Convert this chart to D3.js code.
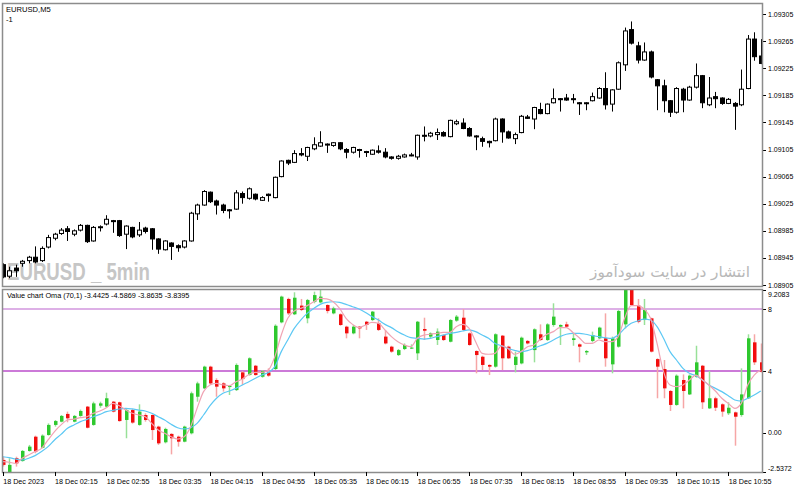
<!DOCTYPE html>
<html>
<head>
<meta charset="utf-8">
<script src="https://cdnjs.cloudflare.com/ajax/libs/d3/7.8.5/d3.min.js"></script>
<style>
  body { margin: 0; background: #fff; }
  svg { display: block; font-family: "Liberation Sans", Arial, sans-serif; }
</style>
</head>
<body>
<svg width="800" height="490"></svg>
<script>
const timeLabels = ["18 Dec 2023", "18 Dec 02:15", "18 Dec 02:55", "18 Dec 03:35", "18 Dec 04:15",
  "18 Dec 04:55", "18 Dec 05:35", "18 Dec 06:15", "18 Dec 06:55", "18 Dec 07:35", "18 Dec 08:15",
  "18 Dec 08:55", "18 Dec 09:35", "18 Dec 10:15", "18 Dec 10:55"];
const timeLabelBars = [0, 8, 16, 24, 32, 40, 48, 56, 64, 72, 80, 88, 96, 104, 112];

const priceTicks = [1.09305, 1.09265, 1.09225, 1.09185, 1.09145, 1.09105, 1.09065, 1.09025, 1.08985, 1.08945, 1.08905];

const priceOpen = [
  1.08935, 1.08918, 1.08930, 1.08937, 1.08941, 1.08946, 1.08941, 1.08961, 1.08974, 1.08981,
  1.08988, 1.08980, 1.08986, 1.08993, 1.08970, 1.08990, 1.08995, 1.09000, 1.09000, 1.08980,
  1.08990, 1.08979, 1.08989, 1.08988, 1.08973, 1.08957, 1.08967, 1.08963, 1.08961, 1.08970,
  1.09010, 1.09023, 1.09042, 1.09029, 1.09023, 1.09016, 1.09017, 1.09040, 1.09033, 1.09039,
  1.09030, 1.09039, 1.09034, 1.09065, 1.09089, 1.09086, 1.09099, 1.09095, 1.09106, 1.09110,
  1.09113, 1.09111, 1.09115, 1.09105, 1.09101, 1.09105, 1.09102, 1.09098, 1.09103, 1.09101,
  1.09094, 1.09092, 1.09094, 1.09096, 1.09094, 1.09126, 1.09125, 1.09127, 1.09130, 1.09124,
  1.09143, 1.09144, 1.09136, 1.09125, 1.09121, 1.09117, 1.09118, 1.09150, 1.09131, 1.09121,
  1.09130, 1.09153, 1.09150, 1.09164, 1.09158, 1.09174, 1.09180, 1.09181, 1.09180, 1.09174,
  1.09173, 1.09177, 1.09181, 1.09195, 1.09172, 1.09194, 1.09230, 1.09282, 1.09258, 1.09237,
  1.09249, 1.09208, 1.09199, 1.09177, 1.09160, 1.09194, 1.09178, 1.09197, 1.09214, 1.09171,
  1.09183, 1.09181, 1.09173, 1.09173, 1.09171, 1.09195, 1.09268, 1.09243];
const priceHigh = [
  1.08937, 1.08932, 1.08935, 1.08942, 1.08948, 1.08962, 1.08962, 1.08979, 1.08982, 1.08989,
  1.08992, 1.08987, 1.08995, 1.08994, 1.08992, 1.08993, 1.09008, 1.09001, 1.09001, 1.08993,
  1.08991, 1.08998, 1.08991, 1.08989, 1.08974, 1.08971, 1.08968, 1.08965, 1.08971, 1.09013,
  1.09025, 1.09045, 1.09043, 1.09031, 1.09025, 1.09017, 1.09045, 1.09043, 1.09049, 1.09040,
  1.09036, 1.09040, 1.09065, 1.09089, 1.09090, 1.09104, 1.09107, 1.09109, 1.09123, 1.09132,
  1.09114, 1.09116, 1.09116, 1.09107, 1.09109, 1.09106, 1.09103, 1.09105, 1.09111, 1.09107,
  1.09095, 1.09097, 1.09099, 1.09100, 1.09127, 1.09139, 1.09131, 1.09136, 1.09132, 1.09149,
  1.09149, 1.09151, 1.09138, 1.09126, 1.09124, 1.09118, 1.09152, 1.09151, 1.09133, 1.09130,
  1.09156, 1.09156, 1.09168, 1.09174, 1.09173, 1.09195, 1.09181, 1.09187, 1.09187, 1.09175,
  1.09175, 1.09189, 1.09197, 1.09219, 1.09194, 1.09235, 1.09285, 1.09294, 1.09264, 1.09263,
  1.09251, 1.09209, 1.09208, 1.09178, 1.09197, 1.09196, 1.09199, 1.09232, 1.09215, 1.09212,
  1.09190, 1.09182, 1.09181, 1.09175, 1.09223, 1.09274, 1.09278, 1.09268];
const priceLow = [
  1.08915, 1.08915, 1.08917, 1.08932, 1.08937, 1.08937, 1.08939, 1.08959, 1.08971, 1.08979,
  1.08970, 1.08977, 1.08984, 1.08967, 1.08969, 1.08984, 1.08993, 1.08982, 1.08976, 1.08958,
  1.08974, 1.08976, 1.08981, 1.08957, 1.08951, 1.08956, 1.08942, 1.08954, 1.08959, 1.08969,
  1.09001, 1.09022, 1.09026, 1.09009, 1.09011, 1.09003, 1.09016, 1.09025, 1.09031, 1.09030,
  1.09029, 1.09028, 1.09033, 1.09064, 1.09082, 1.09085, 1.09095, 1.09088, 1.09104, 1.09109,
  1.09100, 1.09109, 1.09104, 1.09092, 1.09099, 1.09093, 1.09094, 1.09097, 1.09099, 1.09092,
  1.09090, 1.09090, 1.09093, 1.09095, 1.09090, 1.09117, 1.09123, 1.09119, 1.09124, 1.09123,
  1.09141, 1.09135, 1.09124, 1.09104, 1.09109, 1.09108, 1.09117, 1.09115, 1.09121, 1.09113,
  1.09129, 1.09150, 1.09135, 1.09157, 1.09157, 1.09173, 1.09161, 1.09177, 1.09173, 1.09156,
  1.09163, 1.09176, 1.09180, 1.09164, 1.09161, 1.09193, 1.09221, 1.09260, 1.09232, 1.09236,
  1.09210, 1.09163, 1.09160, 1.09153, 1.09158, 1.09160, 1.09177, 1.09195, 1.09166, 1.09169,
  1.09166, 1.09171, 1.09172, 1.09134, 1.09169, 1.09194, 1.09236, 1.09231];
const priceClose = [
  1.08917, 1.08926, 1.08926, 1.08940, 1.08946, 1.08939, 1.08959, 1.08975, 1.08980, 1.08986,
  1.08984, 1.08985, 1.08993, 1.08969, 1.08990, 1.08991, 1.09002, 1.08999, 1.08978, 1.08992,
  1.08976, 1.08986, 1.08984, 1.08973, 1.08958, 1.08970, 1.08962, 1.08960, 1.08970, 1.09011,
  1.09023, 1.09043, 1.09028, 1.09023, 1.09015, 1.09015, 1.09041, 1.09034, 1.09047, 1.09032,
  1.09034, 1.09037, 1.09064, 1.09088, 1.09085, 1.09099, 1.09097, 1.09108, 1.09112, 1.09115,
  1.09112, 1.09115, 1.09106, 1.09101, 1.09108, 1.09104, 1.09101, 1.09104, 1.09101, 1.09094,
  1.09092, 1.09095, 1.09097, 1.09097, 1.09126, 1.09125, 1.09129, 1.09130, 1.09125, 1.09148,
  1.09146, 1.09136, 1.09125, 1.09124, 1.09117, 1.09115, 1.09150, 1.09131, 1.09122, 1.09127,
  1.09154, 1.09151, 1.09167, 1.09158, 1.09172, 1.09180, 1.09179, 1.09178, 1.09179, 1.09173,
  1.09174, 1.09183, 1.09195, 1.09171, 1.09193, 1.09233, 1.09280, 1.09262, 1.09237, 1.09249,
  1.09212, 1.09199, 1.09177, 1.09160, 1.09195, 1.09178, 1.09197, 1.09214, 1.09174, 1.09181,
  1.09180, 1.09173, 1.09179, 1.09169, 1.09194, 1.09268, 1.09242, 1.09232];

const vcTicks = [9.2083, 8, 4, 0, -2.5372];
const vcTickLabels = ["9.2083", "8", "4", "0.00", "-2.5372"];
const vcLevels = [8, 4];

const vcOpen = [
  -1.74, -2.54, -1.63, -1.81, -1.16, -0.24, -0.95, -0.13, 0.52, 0.73,
  1.23, 0.73, 1.10, 1.70, 0.52, 1.76, 1.70, 2.02, 1.98, 0.84,
  1.48, 0.52, 1.16, 1.16, 0.41, -0.60, -0.06, -0.24, -0.56, -0.02,
  2.34, 2.88, 4.28, 3.42, 3.20, 2.99, 2.77, 3.91, 3.74, 4.34,
  3.63, 3.91, 4.13, 7.14, 8.65, 7.66, 8.22, 7.40, 8.47, 8.43,
  8.26, 7.72, 7.66, 6.86, 6.43, 6.86, 7.18, 7.29, 7.08, 6.22,
  5.57, 5.03, 5.42, 5.46, 5.14, 6.71, 6.22, 6.00, 6.32, 5.89,
  7.25, 7.44, 6.43, 5.29, 4.92, 4.39, 4.28, 6.28, 5.57, 4.39,
  4.49, 5.94, 5.35, 6.37, 6.00, 6.97, 6.86, 7.01, 6.00, 5.72,
  5.20, 5.94, 6.11, 6.11, 4.43, 5.57, 7.01, 9.29, 8.22, 7.29,
  7.40, 4.77, 4.13, 2.71, 1.81, 3.42, 2.49, 3.63, 4.34, 1.59,
  2.24, 1.85, 1.27, 1.33, 1.16, 2.24, 5.85, 4.56];
const vcHigh = [
  -1.53, -1.63, -1.53, -1.10, -0.77, -0.17, -0.09, 0.62, 0.84, 1.16,
  1.38, 1.16, 1.51, 1.74, 2.02, 2.02, 2.60, 2.06, 2.02, 1.55,
  1.55, 1.85, 1.27, 1.20, 0.47, 0.34, -0.02, -0.17, 0.47, 2.67,
  3.31, 4.34, 4.34, 3.53, 3.27, 3.10, 4.49, 4.00, 4.88, 4.39,
  4.06, 4.17, 7.01, 8.86, 8.73, 9.08, 8.65, 8.65, 9.12, 9.44,
  8.30, 8.15, 7.72, 6.92, 6.97, 6.90, 7.23, 7.87, 7.40, 6.65,
  5.63, 5.42, 5.78, 5.72, 7.23, 7.44, 6.49, 6.75, 6.37, 7.35,
  7.61, 8.00, 6.49, 5.33, 4.99, 4.43, 6.43, 6.32, 5.63, 5.25,
  6.22, 6.00, 6.75, 7.01, 7.08, 8.37, 7.01, 7.18, 6.43, 5.78,
  5.35, 6.54, 6.86, 7.72, 6.22, 7.94, 9.55, 9.55, 8.65, 8.65,
  7.44, 4.82, 4.71, 2.77, 3.78, 3.78, 3.78, 5.63, 4.39, 4.00,
  2.34, 1.91, 1.98, 1.38, 4.17, 6.37, 6.37, 5.78];
const vcLow = [
  -2.17, -2.62, -2.17, -1.85, -1.20, -1.31, -0.99, -0.17, 0.41, 0.69,
  0.69, 0.69, 1.05, 0.30, 0.47, 1.63, 1.63, 1.33, 0.73, -0.34,
  0.60, 0.47, 0.73, -0.45, -0.77, -0.67, -1.38, -0.88, -0.60, -0.09,
  2.02, 2.84, 3.10, 2.34, 2.67, 2.45, 2.71, 3.10, 3.70, 3.70,
  3.57, 3.63, 4.06, 7.08, 7.61, 7.61, 7.87, 7.08, 8.37, 8.37,
  7.72, 7.66, 6.92, 6.11, 6.37, 6.11, 6.65, 7.23, 6.58, 5.72,
  5.18, 4.97, 5.35, 5.42, 4.71, 6.00, 6.11, 5.68, 5.94, 5.85,
  7.18, 6.58, 5.63, 3.85, 4.06, 3.74, 4.22, 4.06, 4.77, 3.91,
  4.43, 5.72, 4.56, 5.94, 5.94, 6.86, 5.68, 6.80, 5.63, 4.56,
  5.03, 5.85, 6.06, 4.28, 3.85, 5.51, 6.75, 8.22, 7.08, 6.97,
  5.20, 2.24, 2.24, 1.42, 1.76, 1.59, 2.45, 3.57, 1.55, 1.55,
  1.42, 1.05, 1.16, -0.82, 1.05, 2.19, 4.39, 3.91];
const vcClose = [
  -2.06, -2.06, -1.96, -1.16, -0.88, -1.20, -0.17, 0.52, 0.77, 1.10,
  0.95, 1.10, 1.42, 0.34, 1.91, 1.91, 2.24, 1.38, 0.77, 1.48,
  0.67, 1.38, 0.84, 0.19, -0.67, 0.26, -0.34, -0.56, 0.41, 2.56,
  3.20, 4.28, 3.20, 2.99, 2.88, 3.03, 4.39, 3.48, 4.82, 3.74,
  4.00, 3.70, 6.92, 8.80, 7.72, 8.73, 7.94, 8.58, 8.90, 8.80,
  7.87, 8.04, 6.97, 6.43, 6.86, 6.75, 6.97, 7.83, 6.65, 5.78,
  5.25, 5.35, 5.68, 5.51, 7.18, 6.60, 6.43, 6.54, 6.00, 7.29,
  7.51, 6.65, 5.68, 5.03, 4.39, 4.28, 6.37, 4.82, 4.82, 4.92,
  6.15, 5.78, 6.69, 6.00, 7.01, 7.51, 6.97, 6.86, 6.11, 5.57,
  5.29, 6.32, 6.80, 4.82, 6.11, 7.87, 9.33, 8.26, 7.18, 7.94,
  5.25, 4.28, 2.88, 1.81, 3.70, 2.71, 3.70, 4.56, 1.98, 2.24,
  1.63, 1.38, 1.63, 1.05, 2.49, 6.11, 4.56, 3.96];

const vcFast = [
  -1.85, -1.89, -1.96, -1.63, -1.42, -1.20, -0.99, -0.45, 0.09, 0.52,
  0.84, 0.90, 0.99, 1.05, 1.27, 1.42, 1.63, 1.91, 1.76, 1.48,
  1.27, 1.16, 1.05, 0.62, 0.19, -0.02, -0.24, -0.39, -0.24, 0.41,
  1.59, 2.67, 3.10, 3.20, 3.10, 3.05, 3.31, 3.48, 3.78, 3.91,
  3.91, 4.06, 4.92, 6.32, 7.40, 7.87, 8.04, 8.22, 8.47, 8.69,
  8.65, 8.47, 8.04, 7.40, 7.01, 6.80, 6.97, 7.14, 7.08, 6.65,
  6.22, 5.89, 5.68, 5.57, 6.11, 6.32, 6.37, 6.43, 6.49, 6.49,
  6.86, 7.01, 6.75, 5.89, 5.14, 5.08, 5.14, 5.63, 5.46, 5.08,
  5.25, 5.57, 5.68, 6.06, 6.37, 6.54, 6.80, 6.80, 6.49, 6.15,
  5.78, 5.78, 6.00, 5.89, 5.89, 6.22, 7.40, 8.22, 8.22, 8.00,
  7.40, 5.78, 3.96, 3.10, 2.99, 3.10, 3.42, 3.74, 3.42, 3.10,
  2.71, 2.24, 1.91, 1.59, 1.91, 3.10, 3.74, 4.06];
const vcSlow = [
  -1.53, -1.59, -1.68, -1.74, -1.63, -1.46, -1.20, -0.88, -0.45, -0.09,
  0.30, 0.52, 0.73, 0.88, 1.05, 1.20, 1.38, 1.46, 1.55, 1.59,
  1.55, 1.48, 1.42, 1.27, 1.05, 0.84, 0.56, 0.34, 0.26, 0.34,
  0.62, 1.16, 1.76, 2.24, 2.56, 2.71, 2.88, 3.10, 3.31, 3.53,
  3.74, 3.91, 4.28, 5.25, 6.00, 6.75, 7.29, 7.72, 8.04, 8.30,
  8.43, 8.47, 8.43, 8.30, 8.15, 8.00, 7.78, 7.51, 7.29, 7.01,
  6.80, 6.54, 6.32, 6.15, 6.11, 6.06, 6.11, 6.22, 6.32, 6.43,
  6.49, 6.58, 6.65, 6.54, 6.32, 6.11, 5.78, 5.63, 5.46, 5.33,
  5.25, 5.31, 5.46, 5.63, 5.78, 6.00, 6.22, 6.37, 6.43, 6.43,
  6.37, 6.28, 6.22, 6.15, 6.11, 6.32, 6.75, 7.08, 7.23, 7.35,
  7.29, 6.86, 6.11, 5.25, 4.71, 4.17, 3.85, 3.70, 3.42, 3.10,
  2.88, 2.67, 2.41, 2.13, 2.06, 2.24, 2.45, 2.71];

const frame = { left: 2, right: 762, mainTop: 3, mainBottom: 286, subTop: 289, subBottom: 472 };

class PriceChart {

  constructor(svg, x) {
    this.svg = svg;
    this.x = x;
    this.y = d3.scaleLinear().domain([1.08905, 1.09305]).range([285, 14]);
  }

  viewInit() {
    let g = this.svg.append('g');

    g.append('text').attr('x', 7).attr('y', 280)
      .attr('font-family', '"Liberation Sans Narrow", "Liberation Sans", sans-serif')
      .attr('font-weight', 'bold').attr('font-size', 23)
      .attr('textLength', 143).attr('lengthAdjust', 'spacingAndGlyphs')
      .attr('fill', '#c6c6c6').text('EURUSD _ 5min');

    g.append('text').attr('x', 590).attr('y', 277)
      .attr('font-family', '"DejaVu Sans", sans-serif').attr('font-size', 15)
      .attr('textLength', 160).attr('lengthAdjust', 'spacingAndGlyphs')
      .attr('fill', '#b8b8b8').text('انتشار در سایت سودآموز');

    let bars = d3.range(priceOpen.length).map(i => ({
      i, o: priceOpen[i], h: priceHigh[i], l: priceLow[i], c: priceClose[i]
    }));

    this.svg.append('clipPath').attr('id', 'main-clip')
      .append('rect').attr('x', frame.left + 1).attr('y', frame.mainTop + 1)
      .attr('width', frame.right - frame.left - 1).attr('height', frame.mainBottom - frame.mainTop - 1);

    let candles = g.append('g').attr('clip-path', 'url(#main-clip)')
      .selectAll('g').data(bars).enter().append('g');

    candles.append('line')
      .attr('x1', d => Math.round(this.x(d.i)) + 0.5)
      .attr('x2', d => Math.round(this.x(d.i)) + 0.5)
      .attr('y1', d => this.y(d.h))
      .attr('y2', d => this.y(d.l))
      .attr('stroke', '#000').attr('stroke-width', 1);

    candles.append('rect')
      .attr('x', d => Math.round(this.x(d.i)) - 1.5)
      .attr('y', d => this.y(Math.max(d.o, d.c)))
      .attr('width', 4)
      .attr('height', d => Math.max(1, Math.abs(this.y(d.o) - this.y(d.c))))
      .attr('fill', d => d.c >= d.o ? '#fff' : '#000')
      .attr('stroke', '#000').attr('stroke-width', 1);

    g.append('text').attr('x', 6).attr('y', 12).attr('font-size', 7.6).attr('fill', '#000').text('EURUSD,M5');
    g.append('text').attr('x', 6).attr('y', 21.5).attr('font-size', 7.6).attr('fill', '#000').text('-1');

    let ticks = g.selectAll('.ptick').data(priceTicks).enter().append('g');
    ticks.append('line')
      .attr('x1', frame.right).attr('x2', frame.right + 4)
      .attr('y1', d => Math.round(this.y(d)) + 0.5).attr('y2', d => Math.round(this.y(d)) + 0.5)
      .attr('stroke', '#000');
    ticks.append('text')
      .attr('x', frame.right + 6).attr('y', d => this.y(d) + 2.5)
      .attr('font-size', 7).attr('fill', '#000')
      .text(d => d.toFixed(5));
  }

}

class ValueChart {

  constructor(svg, x) {
    this.svg = svg;
    this.x = x;
    this.y = d3.scaleLinear().domain([-2.5372, 9.2083]).range([472.3, 290.3]);
  }

  viewInit() {
    let g = this.svg.append('g');

    this.svg.append('clipPath').attr('id', 'sub-clip')
      .append('rect').attr('x', frame.left + 1).attr('y', frame.subTop + 1)
      .attr('width', frame.right - frame.left - 1).attr('height', frame.subBottom - frame.subTop - 1);

    let body = g.append('g').attr('clip-path', 'url(#sub-clip)');

    body.selectAll('.level').data(vcLevels).enter().append('line')
      .attr('x1', frame.left).attr('x2', frame.right)
      .attr('y1', d => this.y(d)).attr('y2', d => this.y(d))
      .attr('stroke', (d, i) => i == 0 ? '#ddb0e6' : '#cc7ad8')
      .attr('stroke-width', 2);

    let bars = d3.range(vcOpen.length).map(i => ({
      i, o: vcOpen[i], h: vcHigh[i], l: vcLow[i], c: vcClose[i]
    }));

    let candles = body.selectAll('.vc').data(bars).enter().append('g');

    candles.append('line')
      .attr('x1', d => Math.round(this.x(d.i)) + 0.5)
      .attr('x2', d => Math.round(this.x(d.i)) + 0.5)
      .attr('y1', d => this.y(d.h))
      .attr('y2', d => this.y(d.l))
      .attr('stroke', d => d.c >= d.o ? '#98e098' : '#f6a6a6')
      .attr('stroke-width', 1.5);

    candles.append('rect')
      .attr('x', d => Math.round(this.x(d.i)) - 1)
      .attr('y', d => this.y(Math.max(d.o, d.c)))
      .attr('width', 3.5)
      .attr('height', d => Math.max(1, Math.abs(this.y(d.o) - this.y(d.c))))
      .attr('fill', d => d.c >= d.o ? '#2ec82e' : '#f20e0e');

    let line = values => d3.line()
      .x((d, i) => this.x(i))
      .y(d => this.y(d))
      .curve(d3.curveMonotoneX)(values);

    body.append('path').attr('d', line(vcSlow))
      .attr('fill', 'none').attr('stroke', '#5cc8f4').attr('stroke-width', 1.2);
    body.append('path').attr('d', line(vcFast))
      .attr('fill', 'none').attr('stroke', '#f0a4b4').attr('stroke-width', 1.2);

    g.append('text').attr('x', 7).attr('y', 298).attr('font-size', 7.3).attr('fill', '#000')
      .text('Value chart Oma (70,1) -3.4425 -4.5869 -3.8635 -3.8395');

    let ticks = g.selectAll('.vtick').data(vcTicks).enter().append('g');
    ticks.append('line')
      .attr('x1', frame.right).attr('x2', frame.right + 4)
      .attr('y1', d => Math.round(this.y(d)) + 0.5).attr('y2', d => Math.round(this.y(d)) + 0.5)
      .attr('stroke', '#000');
    ticks.append('text')
      .attr('x', frame.right + 6)
      .attr('y', d => Math.min(470.5, Math.max(296.5, this.y(d) + 2.5)))
      .attr('font-size', 7).attr('fill', '#000')
      .text((d, i) => vcTickLabels[i]);
  }

}

class MainComponent {

  viewInit() {
    let svg = d3.select('svg');
    let x = d3.scaleLinear().domain([0, 117]).range([2.7, 760.7]);

    svg.append('rect').attr('width', 800).attr('height', 490).attr('fill', '#fff');

    new PriceChart(svg, x).viewInit();
    new ValueChart(svg, x).viewInit();

    let borders = svg.append('g').attr('fill', 'none').attr('stroke', '#8c8c8c');
    borders.append('rect')
      .attr('x', frame.left + 0.5).attr('y', frame.mainTop + 0.5)
      .attr('width', frame.right - frame.left).attr('height', frame.mainBottom - frame.mainTop)
      .attr('stroke-width', 1.5);
    borders.append('rect')
      .attr('x', frame.left + 0.5).attr('y', frame.subTop + 0.5)
      .attr('width', frame.right - frame.left).attr('height', frame.subBottom - frame.subTop)
      .attr('stroke-width', 1.5);

    let ticks = svg.append('g').selectAll('g').data(timeLabelBars).enter().append('g');
    ticks.append('line')
      .attr('x1', d => Math.round(x(d)) + 0.5).attr('x2', d => Math.round(x(d)) + 0.5)
      .attr('y1', frame.subBottom).attr('y2', frame.subBottom + 4)
      .attr('stroke', '#000');
    ticks.append('text')
      .attr('x', d => x(d) + 0.5).attr('y', 484)
      .attr('font-size', 7.2).attr('fill', '#000')
      .text((d, i) => timeLabels[i]);
  }

}

let main = new MainComponent();
main.viewInit();
</script>
</body>
</html>
